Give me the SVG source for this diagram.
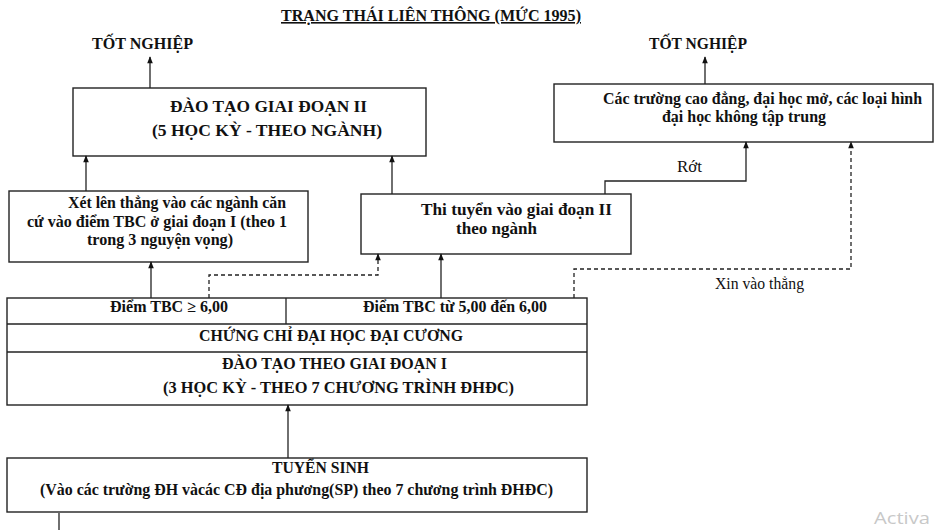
<svg xmlns="http://www.w3.org/2000/svg" width="934" height="530" viewBox="0 0 934 530">
<defs>
<style>
.t{font-family:"Liberation Serif","Times New Roman",serif;font-weight:bold;font-size:16px;fill:#111}
.n{font-family:"Liberation Serif","Times New Roman",serif;font-size:16px;fill:#111}
.b{fill:#fff;stroke:#222;stroke-width:1.4}
.c{fill:none;stroke:#222;stroke-width:1.3}
.d{fill:none;stroke:#222;stroke-width:1.3;stroke-dasharray:4,3}
</style>
<marker id="ah" viewBox="0 0 10 10" refX="9" refY="5" markerWidth="8" markerHeight="7" orient="auto" markerUnits="userSpaceOnUse">
<path d="M0,1 L10,5 L0,9 z" fill="#111"/>
</marker>
</defs>
<rect width="934" height="530" fill="#fff"/>
<g id="title">
<text class="t" x="281" y="21" textLength="300" lengthAdjust="spacingAndGlyphs" text-decoration="underline">TRẠNG THÁI LIÊN THÔNG (MỨC 1995)</text>
</g>
<g id="totnghiep1"><text class="t" x="92" y="49" textLength="101" lengthAdjust="spacingAndGlyphs">TỐT NGHIỆP</text></g>
<g id="totnghiep2"><text class="t" x="649" y="49" textLength="98" lengthAdjust="spacingAndGlyphs">TỐT NGHIỆP</text></g>
<g id="giaidoan2">
<rect class="b" x="73" y="88" width="353" height="68"/>
<text class="t" x="170" y="112" textLength="197" lengthAdjust="spacingAndGlyphs">ĐÀO TẠO GIAI ĐOẠN II</text>
<text class="t" x="152" y="136" textLength="230" lengthAdjust="spacingAndGlyphs">(5 HỌC KỲ - THEO NGÀNH)</text>
</g>
<g id="caodang">
<rect class="b" x="554" y="84" width="379" height="58"/>
<text class="t" x="603" y="104" textLength="319" lengthAdjust="spacingAndGlyphs">Các trường cao đẳng, đại học mở, các loại hình</text>
<text class="t" x="662" y="122" textLength="164" lengthAdjust="spacingAndGlyphs">đại học không tập trung</text>
</g>
<g id="xetlen">
<rect class="b" x="9" y="191" width="299" height="71"/>
<text class="t" x="68" y="208" textLength="218" lengthAdjust="spacingAndGlyphs">Xét lên thẳng vào các ngành căn</text>
<text class="t" x="27" y="227" textLength="260" lengthAdjust="spacingAndGlyphs">cứ vào điểm TBC ở giai đoạn I (theo 1</text>
<text class="t" x="87" y="245" textLength="146" lengthAdjust="spacingAndGlyphs">trong 3 nguyện vọng)</text>
</g>
<g id="thituyen">
<rect class="b" x="361" y="194" width="270" height="60"/>
<text class="t" x="421" y="215" textLength="191" lengthAdjust="spacingAndGlyphs">Thi tuyển vào giai đoạn II</text>
<text class="t" x="456" y="234" textLength="81" lengthAdjust="spacingAndGlyphs">theo ngành</text>
</g>
<g id="giaidoan1">
<rect class="b" x="7" y="298" width="580" height="107"/>
<line class="c" x1="7" y1="324" x2="587" y2="324"/>
<line class="c" x1="7" y1="352" x2="587" y2="352"/>
<line class="c" x1="286" y1="298" x2="286" y2="324"/>
<text class="t" x="110" y="312" textLength="118" lengthAdjust="spacingAndGlyphs">Điểm TBC ≥ 6,00</text>
<text class="t" x="363" y="312" textLength="184" lengthAdjust="spacingAndGlyphs">Điểm TBC từ 5,00 đến 6,00</text>
<text class="t" x="199" y="341" textLength="264" lengthAdjust="spacingAndGlyphs">CHỨNG CHỈ ĐẠI HỌC ĐẠI CƯƠNG</text>
<text class="t" x="222" y="369" textLength="225" lengthAdjust="spacingAndGlyphs">ĐÀO TẠO THEO GIAI ĐOẠN I</text>
<text class="t" x="163" y="393" textLength="351" lengthAdjust="spacingAndGlyphs">(3 HỌC KỲ - THEO 7 CHƯƠNG TRÌNH ĐHĐC)</text>
</g>
<g id="tuyensinh">
<rect class="b" x="7" y="458" width="580" height="54"/>
<text class="t" x="272" y="473" textLength="97" lengthAdjust="spacingAndGlyphs">TUYỂN SINH</text>
<text class="t" x="40" y="495" textLength="513" lengthAdjust="spacingAndGlyphs">(Vào các trường ĐH vàcác CĐ địa phương(SP) theo 7 chương trình ĐHĐC)</text>
</g>
<g id="connectors">
<line class="c" x1="150" y1="88" x2="150" y2="57" marker-end="url(#ah)"/>
<line class="c" x1="705" y1="84" x2="705" y2="57" marker-end="url(#ah)"/>
<line class="c" x1="86" y1="191" x2="86" y2="156" marker-end="url(#ah)"/>
<line class="c" x1="392" y1="194" x2="392" y2="156" marker-end="url(#ah)"/>
<polyline class="c" points="605,194 605,181 746,181 746,142" marker-end="url(#ah)"/>
<line class="c" x1="151" y1="298" x2="151" y2="262" marker-end="url(#ah)"/>
<line class="c" x1="441" y1="298" x2="441" y2="254" marker-end="url(#ah)"/>
<polyline class="d" points="209,298 209,275 378,275 378,254" marker-end="url(#ah)"/>
<polyline class="d" points="574,298 574,269 851,269 851,142" marker-end="url(#ah)"/>
<line class="c" x1="288" y1="458" x2="288" y2="405" marker-end="url(#ah)"/>
<line class="c" x1="59" y1="513" x2="59" y2="530"/>
<text class="n" x="677" y="172" textLength="25" lengthAdjust="spacingAndGlyphs">Rớt</text>
<text class="n" x="715" y="289" textLength="89" lengthAdjust="spacingAndGlyphs">Xin vào thẳng</text>
</g>
<text x="874" y="524" textLength="56" lengthAdjust="spacingAndGlyphs" style="font-family:'Open Sans','Noto Sans',sans-serif;font-size:17px;fill:#c8c8c8">Activa</text>
</svg>
